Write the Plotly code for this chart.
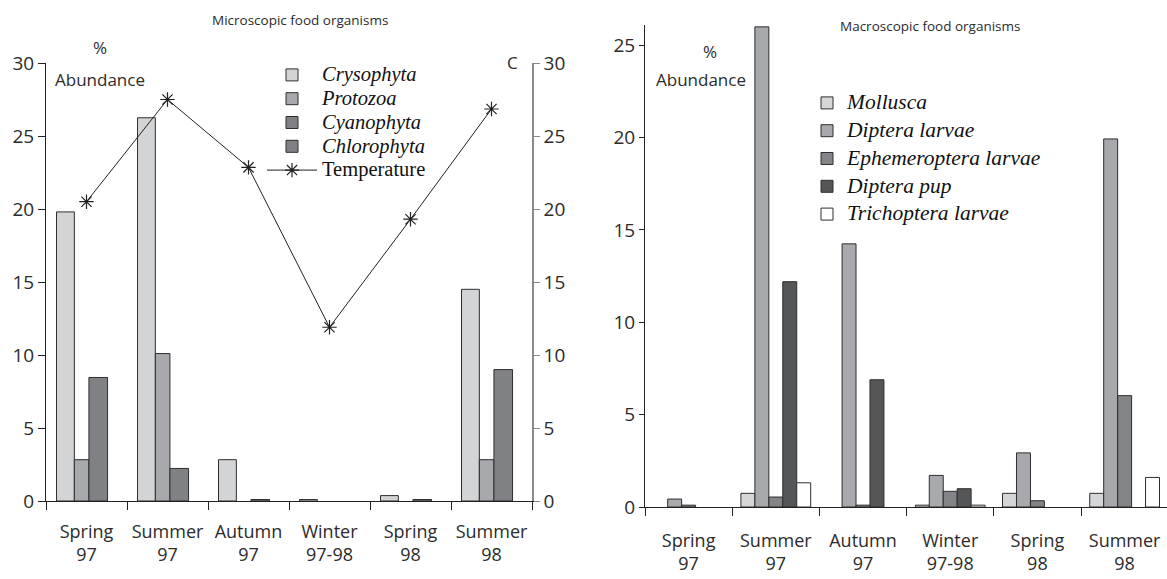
import plotly.graph_objects as go

W, H = 1167, 579

seasons = ["Spring<br>97", "Summer<br>97", "Autumn<br>97", "Winter<br>97-98", "Spring<br>98", "Summer<br>98"]

# Microscopic food organisms (% abundance)
crysophyta = [19.8, 26.25, 2.83, 0.1, 0.37, 14.5]
protozoa = [2.83, 10.1, None, None, None, 2.83]
cyanophyta = [None, None, 0.1, None, 0.1, None]
chlorophyta = [8.46, 2.23, None, None, None, 9.0]
temperature = [20.5, 27.5, 22.85, 11.9, 19.3, 26.85]

# Macroscopic food organisms (% abundance)
mollusca = [None, 0.74, None, 0.1, 0.74, 0.74]
diptera_larvae = [0.43, 26.0, 14.25, 1.71, 2.93, 19.93]
ephemeroptera_larvae = [0.1, 0.54, 0.1, 0.85, 0.34, 6.03]
diptera_pup = [None, 12.2, 6.89, 0.99, None, None]
trichoptera_larvae = [None, 1.31, None, 0.1, None, 1.6]

TXT = "#2b2b2b"
SANS = "Open Sans"
SERIF = "Liberation Serif"
EDGE = "#2e2e2e"


def big(name, size, italic=True):
    inner = f"<i>{name}</i>" if italic else name
    return f"<span style='font-size:{size}px'>{inner}</span>"


fig = go.Figure()

micro = [
    ("Crysophyta", crysophyta, "#d3d4d6", -0.37, 0.22),
    ("Protozoa", protozoa, "#a8a9ac", -0.15, 0.18),
    ("Cyanophyta", cyanophyta, "#808185", 0.03, 0.23),
    ("Chlorophyta", chlorophyta, "#808185", 0.03, 0.23),
]
for name, vals, col, off, wd in micro:
    fig.add_trace(go.Bar(
        x=seasons, y=vals, name=big(name, 20.5), offset=off, width=wd,
        marker=dict(color=col, line=dict(color=EDGE, width=1)),
        xaxis="x", yaxis="y", legend="legend",
    ))

fig.add_trace(go.Scatter(
    x=seasons, y=temperature, name=big("Temperature", 20.5, italic=False), mode="lines+markers",
    line=dict(color="#222222", width=1),
    marker=dict(symbol="asterisk-open", size=12, color="#222222", line=dict(color="#222222", width=1.2)),
    xaxis="x", yaxis="y2", legend="legend",
))

macro = [
    ("Mollusca", mollusca, "#d5d6d8"),
    ("Diptera larvae", diptera_larvae, "#a8a9ac"),
    ("Ephemeroptera larvae", ephemeroptera_larvae, "#838488"),
    ("Diptera pup", diptera_pup, "#555658"),
    ("Trichoptera larvae", trichoptera_larvae, "#ffffff"),
]
for k, (name, vals, col) in enumerate(macro):
    fig.add_trace(go.Bar(
        x=seasons, y=vals, name=big(name, 21.5), offset=-0.40 + 0.16 * k, width=0.16,
        marker=dict(color=col, line=dict(color=EDGE, width=1)),
        xaxis="x2", yaxis="y3", legend="legend2", legendgroup=f"m{k}",
    ))


def px(x):
    return x / W


def py(y):
    return 1 - y / H


base = dict(showgrid=False, zeroline=False, showline=True, linewidth=1,
            ticks="outside", tickcolor="#222222")
ytf = dict(family=SANS, size=19, color=TXT)
xtf = dict(family=SANS, size=18, color=TXT)


def note(text, x, y, size=17):
    return dict(text=text, x=px(x), y=py(y), xref="paper", yref="paper",
                xanchor="center", yanchor="middle", showarrow=False,
                font=dict(family=SANS, size=size, color=TXT))


fig.update_layout(
    width=W, height=H,
    margin=dict(l=0, r=0, t=0, b=0, autoexpand=False),
    paper_bgcolor="white", plot_bgcolor="white",
    barmode="overlay",
    showlegend=True,
    xaxis=dict(domain=[px(46), px(532)], range=[-0.5, 5.5], type="category",
               tickson="boundaries", ticklen=8, tickangle=0, ticklabelstandoff=14,
               linecolor="#222222", anchor="y", tickfont=xtf, **base),
    yaxis=dict(domain=[py(501), py(63)], range=[0, 30], dtick=5, ticklen=7,
               linecolor="#222222", anchor="x", tickfont=ytf, **base),
    yaxis2=dict(overlaying="y", side="right", range=[0, 30], dtick=5, ticklen=6,
                linecolor="#8a8a8a", tickcolor="#8a8a8a", anchor="x",
                showgrid=False, zeroline=False, showline=True, linewidth=1.5,
                ticks="outside", tickfont=ytf),
    xaxis2=dict(domain=[px(645), 1.0], range=[-0.5, 5.486], type="category",
                tickson="boundaries", ticklen=8, tickangle=0, ticklabelstandoff=17,
                linecolor="#222222", anchor="y3", tickfont=xtf, **base),
    yaxis3=dict(domain=[py(507), py(25)], range=[0, 26.1], dtick=5, ticklen=5,
                linecolor="#222222", anchor="x2", tickfont=ytf, **base),
    legend=dict(x=px(262), y=py(58), xanchor="left", yanchor="top",
                bgcolor="rgba(0,0,0,0)", font=dict(family=SERIF, size=16, color="#111111"),
                tracegroupgap=0, itemwidth=50),
    legend2=dict(x=px(807), y=py(86), xanchor="left", yanchor="top",
                 bgcolor="rgba(0,0,0,0)", font=dict(family=SERIF, size=16, color="#111111"),
                 tracegroupgap=4),
    annotations=[
        note("Microscopic food organisms", 300, 20, 13.5),
        note("Macroscopic food organisms", 930, 26, 13.5),
        note("%", 100, 48),
        note("Abundance", 100, 80),
        note("C", 512, 63),
        note("%", 710, 52),
        note("Abundance", 701, 80),
    ],
)

fig.write_html(
    "out.html",
    config={"displayModeBar": False},
    post_script="document.body.style.margin='0';document.body.style.padding='0';"
                "document.body.style.overflow='hidden';",
)
